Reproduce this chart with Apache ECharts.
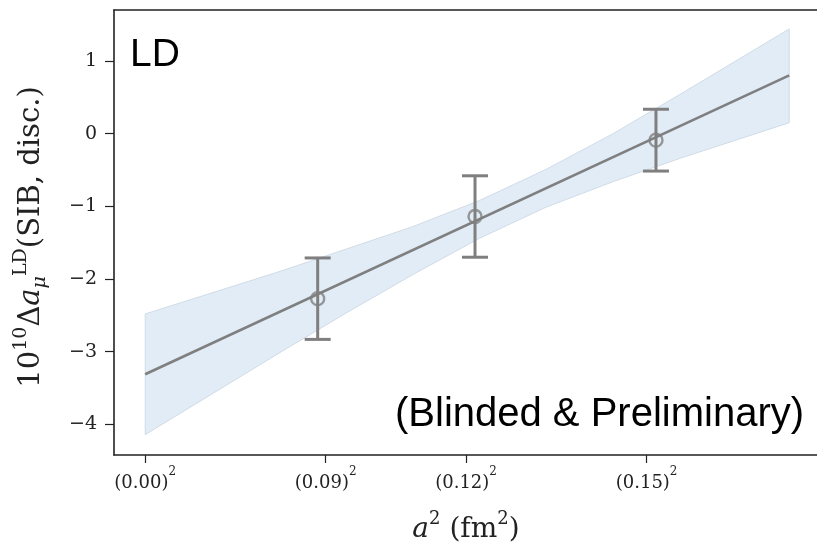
<!DOCTYPE html>
<html>
<head>
<meta charset="utf-8">
<script src="https://cdn.jsdelivr.net/npm/echarts@6/dist/echarts.min.js"></script>
<style>
  html, body { margin: 0; padding: 0; background: #ffffff; }
  #chart { width: 817px; height: 542px; }
</style>
</head>
<body>
<div id="chart"></div>
<script>
// Lattice data points: a^2 (fm^2), central value and error
const pointA2 = [0.00774, 0.01480, 0.02292];
const pointVal = [-2.27, -1.14, -0.09];
const pointErr = [0.56, 0.56, 0.425];

// Linear continuum fit (endpoints of the drawn line)
const fitA2 = [0.0, 0.0289];
const fitVal = [-3.31, 0.80];

// Fit uncertainty band, sampled along a^2
const bandA2 = [0.0, 0.003, 0.006, 0.009, 0.012, 0.015, 0.018, 0.021, 0.024, 0.027, 0.0289];
const bandUpper = [-2.48, -2.19, -1.90, -1.59, -1.28, -0.92, -0.49, 0.00, 0.54, 1.09, 1.44];
const bandLower = [-4.14, -3.58, -3.02, -2.47, -1.94, -1.44, -1.01, -0.66, -0.34, -0.04, 0.15];

// Axis ticks
const xTickValues = [0, 0.0081, 0.0144, 0.0225];
const xTickLabels = ['(0.00)', '(0.09)', '(0.12)', '(0.15)'];
const yTickValues = [-4, -3, -2, -1, 0, 1];

const SERIF = "'DejaVu Serif', 'Liberation Serif', serif";
const SANS = "'Liberation Sans', Arial, sans-serif";
const GREY = '#7f7f7f';
const INK = '#222222';

const chart = echarts.init(document.getElementById('chart'), null, { renderer: 'canvas' });

const fitData = fitA2.map((x, i) => [x, fitVal[i]]);
const pointData = pointA2.map((x, i) => [x, pointVal[i], pointErr[i]]);

const X_MIN = -0.0014, X_MAX = 0.03055;

const option = {
  animation: false,
  backgroundColor: '#ffffff',
  // the plot frame runs past the right edge of the canvas
  grid: {
    left: 114, top: 10, width: 712, height: 445,
    outerBoundsMode: 'none',
    containLabel: false,
    show: false
  },
  xAxis: [
    {
      type: 'value',
      position: 'bottom',
      min: X_MIN,
      max: X_MAX,
      splitLine: { show: false },
      axisLine: { show: true, onZero: false, lineStyle: { color: INK, width: 1.6 } },
      axisTick: { show: true, customValues: xTickValues, length: 8, lineStyle: { color: INK, width: 1.2 } },
      axisLabel: {
        customValues: xTickValues,
        margin: 11,
        color: INK,
        formatter: function (v) {
          let idx = 0, best = Infinity;
          xTickValues.forEach((t, i) => { const d = Math.abs(t - v); if (d < best) { best = d; idx = i; } });
          return '{b|' + xTickLabels[idx] + '}{s|2}';
        },
        rich: {
          b: { fontFamily: SERIF, fontSize: 18, color: INK, lineHeight: 26, verticalAlign: 'bottom' },
          s: { fontFamily: SERIF, fontSize: 12, color: INK, lineHeight: 18, verticalAlign: 'top' }
        }
      }
    },
    {
      // top edge of the frame
      type: 'value',
      position: 'top',
      min: X_MIN,
      max: X_MAX,
      splitLine: { show: false },
      axisLine: { show: true, onZero: false, lineStyle: { color: INK, width: 1.6 } },
      axisTick: { show: false },
      axisLabel: { show: false }
    }
  ],
  yAxis: {
    type: 'value',
    min: -4.42,
    max: 1.70,
    splitLine: { show: false },
    axisLine: { show: true, onZero: false, lineStyle: { color: INK, width: 1.6 } },
    axisTick: { show: true, customValues: yTickValues, length: 9, lineStyle: { color: INK, width: 1.2 } },
    axisLabel: {
      customValues: yTickValues,
      margin: 17,
      color: INK,
      fontFamily: SERIF,
      fontSize: 19,
      formatter: function (v) { return String(Math.round(v)).replace('-', '\u2212'); }
    }
  },
  series: [
    {
      name: 'band',
      type: 'custom',
      coordinateSystem: 'cartesian2d',
      data: [[bandA2[0], bandUpper[0]]],
      z: 1,
      silent: true,
      renderItem: function (params, api) {
        const pts = [];
        for (let i = 0; i < bandA2.length; i++) pts.push(api.coord([bandA2[i], bandUpper[i]]));
        for (let i = bandA2.length - 1; i >= 0; i--) pts.push(api.coord([bandA2[i], bandLower[i]]));
        return {
          type: 'polygon',
          shape: { points: pts },
          style: { fill: '#e1ecf6', stroke: '#d0dce7', lineWidth: 1 }
        };
      }
    },
    {
      name: 'fit',
      type: 'line',
      data: fitData,
      z: 2,
      symbol: 'none',
      silent: true,
      lineStyle: { color: GREY, width: 2.6 }
    },
    {
      name: 'errors',
      type: 'custom',
      coordinateSystem: 'cartesian2d',
      data: pointData,
      z: 3,
      silent: true,
      renderItem: function (params, api) {
        const x = api.value(0), y = api.value(1), e = api.value(2);
        const top = api.coord([x, y + e]);
        const bot = api.coord([x, y - e]);
        const cap = 13;
        const st = { stroke: GREY, lineWidth: 3 };
        return {
          type: 'group',
          children: [
            { type: 'line', shape: { x1: top[0], y1: top[1], x2: bot[0], y2: bot[1] }, style: st },
            { type: 'line', shape: { x1: top[0] - cap, y1: top[1], x2: top[0] + cap, y2: top[1] }, style: st },
            { type: 'line', shape: { x1: bot[0] - cap, y1: bot[1], x2: bot[0] + cap, y2: bot[1] }, style: st }
          ]
        };
      }
    },
    {
      name: 'points',
      type: 'scatter',
      data: pointData.map(d => [d[0], d[1]]),
      z: 4,
      symbol: 'circle',
      symbolSize: 13,
      silent: true,
      itemStyle: { color: 'transparent', borderColor: GREY, borderWidth: 2.4 }
    }
  ],
  graphic: [
    {
      type: 'text',
      left: 130, top: 36,
      style: { text: 'LD', fontFamily: SANS, fontSize: 39, fill: '#000000' }
    },
    {
      type: 'text',
      left: 395, top: 395,
      style: { text: '(Blinded & Preliminary)', fontFamily: SANS, fontSize: 40, fill: '#000000' }
    },
    {
      type: 'text',
      x: 466, y: 527,
      style: {
        text: '{it|a}{sp|2}{n| (fm}{sp|2}{n|)}',
        align: 'center', verticalAlign: 'middle',
        rich: {
          it: { fontFamily: SERIF, fontStyle: 'italic', fontSize: 28, fill: INK, lineHeight: 34, verticalAlign: 'bottom' },
          n: { fontFamily: SERIF, fontSize: 28, fill: INK, lineHeight: 34, verticalAlign: 'bottom' },
          sp: { fontFamily: SERIF, fontSize: 18, fill: INK, lineHeight: 22, verticalAlign: 'top' }
        }
      }
    },
    {
      type: 'text',
      x: 31, y: 237,
      rotation: Math.PI / 2,
      style: {
        text: '{n|10}{sp|10}{n|\u0394}{it|a}{sb|\u03bc}{sp|LD}{n|(SIB, disc.)}',
        align: 'center', verticalAlign: 'middle',
        rich: {
          n: { fontFamily: SERIF, fontSize: 29, fill: INK, lineHeight: 38, verticalAlign: 'middle' },
          it: { fontFamily: SERIF, fontStyle: 'italic', fontSize: 29, fill: INK, lineHeight: 38, verticalAlign: 'middle' },
          sp: { fontFamily: SERIF, fontSize: 19, fill: INK, lineHeight: 20, verticalAlign: 'top' },
          sb: { fontFamily: SERIF, fontStyle: 'italic', fontSize: 19, fill: INK, lineHeight: 20, verticalAlign: 'bottom' }
        }
      }
    }
  ]
};

chart.setOption(option);
</script>
</body>
</html>
